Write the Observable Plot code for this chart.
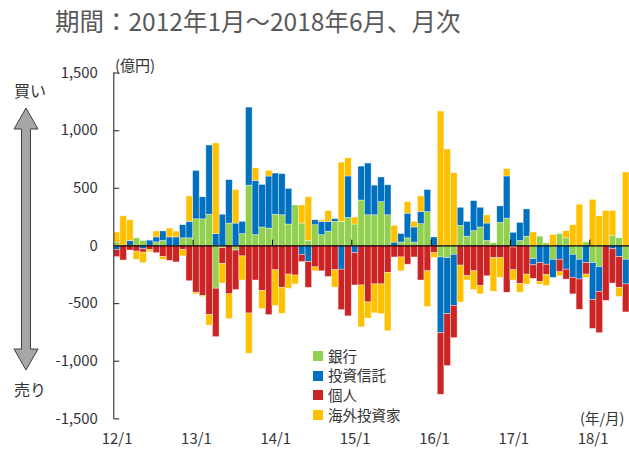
<!DOCTYPE html>
<html><head><meta charset="utf-8">
<script src="https://cdn.jsdelivr.net/npm/d3@7"></script>
<script src="https://cdn.jsdelivr.net/npm/@observablehq/plot@0.6"></script>
<style>
body{margin:0;overflow:hidden;background:#fff;font-family:"Noto Sans CJK JP",sans-serif;}
#wrap{position:relative;width:629px;height:452px;overflow:hidden;}
#chart{position:absolute;left:0;top:0;}
.t{position:absolute;white-space:nowrap;color:#333;line-height:1;}
#legend{position:absolute;left:313px;top:346px;font-size:14.5px;color:#333;line-height:1;}
#legend div{display:flex;align-items:center;height:19.7px;line-height:1;}
#legend span.sw{display:inline-block;width:10px;height:10px;margin-right:5px;}
</style></head><body>
<div id="wrap">
<div id="chart"></div>
<div class="t" style="left:55px;top:9px;font-size:24.5px;color:#595959">期間：2012年1月～2018年6月、月次</div>
<div class="t" style="left:115px;top:57px;font-size:15px">(億円)</div>
<div class="t" style="left:14px;top:82px;font-size:16px">買い</div>
<div class="t" style="left:14px;top:381px;font-size:16px">売り</div>
<div class="t" style="left:580px;top:411px;font-size:14.5px">(年/月)</div>
<svg style="position:absolute;left:0;top:0" width="60" height="452">
<path d="M26,108 L38,129 L30.5,129 L30.5,349 L38,349 L26,370 L14,349 L21.5,349 L21.5,129 L14,129 Z" fill="#a6a6a6" stroke="#404040" stroke-width="1"/>
</svg>
<div id="legend"></div>
</div>
<script>
const seriesNames = ["銀行", "投資信託", "個人", "海外投資家"];
const seriesColors = ["#92D050", "#0070C0", "#CC2424", "#FFC000"];
const xTickLabels = ["12/1","13/1","14/1","15/1","16/1","17/1","18/1"];
const yTicks = [-1500,-1000,-500,0,500,1000,1500];
// 2012/1 .. 2018/6 monthly (78 months)
const bank = [30,0,0,66,43,0,31,43,0,0,66,66,
 231,231,271,-371,-20,194,-40,103,523,94,160,151,
 271,266,186,351,194,43,180,94,123,209,209,243,
 186,394,266,266,380,266,0,29,66,29,189,294,
 0,-100,-106,-77,174,80,129,160,43,23,200,237,
 -14,43,80,-114,80,23,-120,103,66,-77,-120,31,
 -149,-183,0,89,66,-120];
const trust = [-34,0,43,0,-29,46,43,83,74,74,114,143,
 420,191,600,103,271,377,194,106,677,471,369,451,
 357,357,309,0,-77,-140,43,114,86,23,-206,360,
 -63,294,449,257,214,260,29,74,214,131,106,191,
 74,-657,-486,-443,157,129,260,171,151,0,143,366,
 114,157,237,-54,-149,-163,-157,-120,-206,-200,-171,-149,
 -320,-217,0,-29,-97,-214];
const individual = [-63,-126,-40,-49,-29,-34,-63,-97,-129,-143,-34,-306,
 -406,-434,-600,-420,-137,-420,-343,-91,-586,-300,-391,-600,
 -211,-363,-249,-257,-63,-223,-186,-220,-269,-211,-351,-611,
 -280,-343,-490,-334,-334,-234,-100,-100,-163,-100,-300,-220,
 -63,-534,-451,-280,-171,-263,-220,-349,-263,-106,-106,-406,
 -197,-329,-249,-117,-163,-91,0,-109,-86,-143,-263,-100,
 -251,-357,-477,-297,-266,-243];
const foreign = [86,257,180,-71,-91,-20,51,-23,77,51,-57,220,
 -14,-10,-91,786,-169,-214,291,-209,-349,109,-157,49,
 -309,-226,-123,-77,157,380,-34,14,94,-151,514,157,
 60,-363,-140,-251,-257,-506,146,-120,100,49,134,-309,
 -40,1166,837,631,-320,-37,-163,-71,71,-291,-171,63,
 -89,-77,-86,117,-23,-94,94,-34,63,180,357,-29,
 400,257,303,214,-80,637];

const seriesValues = [bank, trust, individual, foreign];
const nMonths = bank.length;
const data = [];
seriesNames.forEach((s, k) => seriesValues[k].forEach((v, i) => data.push({i, i2: i + 1, series: s, value: v})));
const yearStarts = xTickLabels.map((_, k) => k * 12);
const fmt = d => d.toLocaleString("en-US");
const font = '"Noto Sans CJK JP", sans-serif';

const chart = Plot.plot({
  width: 633, height: 452,
  marginTop: 73, marginBottom: 31, marginLeft: 114, marginRight: 0,
  style: {fontFamily: font, fontSize: "15px", color: "#333", background: "transparent"},
  x: {type: "linear", domain: [0, nMonths], ticks: xTickLabels.map((_, k) => k * 12 + 0.5),
      tickFormat: d => xTickLabels[Math.round((d - 0.5) / 12)], tickSize: 0, tickPadding: 15, label: null},
  y: {domain: [-1500, 1500], ticks: yTicks, tickFormat: fmt, tickSize: 0, tickPadding: 16, label: null},
  color: {domain: seriesNames, range: seriesColors},
  marks: [
    Plot.rectY(data, Plot.stackY({x1: "i", x2: "i2", y: "value", fill: "series", z: "series", order: seriesNames,
      stroke: "white", strokeOpacity: 0.55, strokeWidth: 0.7})),
    Plot.ruleY([0], {stroke: "#000", strokeWidth: 1.2}),
    Plot.ruleX(yearStarts.slice(1), {y1: 0, y2: 50, stroke: "#000"}),
    Plot.ruleX([0], {y1: -1500, y2: 1500, stroke: "#404040", strokeWidth: 1.2}),
    Plot.ruleY(yTicks, {x1: 0, x2: 0.9, stroke: "#404040", strokeWidth: 1.2})
  ]
});
document.getElementById("chart").appendChild(chart);

const lg = document.getElementById("legend");
seriesNames.forEach((s, k) => {
  const row = document.createElement("div");
  const sw = document.createElement("span");
  sw.className = "sw"; sw.style.background = seriesColors[k];
  row.appendChild(sw);
  row.appendChild(document.createTextNode(s));
  lg.appendChild(row);
});
</script>
</body></html>
